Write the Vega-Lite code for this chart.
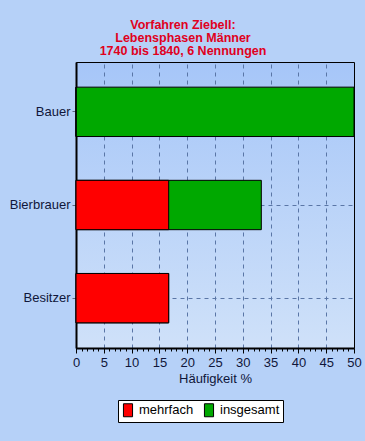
{
  "$schema": "https://vega.github.io/schema/vega-lite/v6.json",
  "autosize": "none",
  "width": 278,
  "height": 286,
  "padding": {"left": 76, "top": 62, "right": 11, "bottom": 93},
  "background": "#b6d1f8",
  "view": {
    "stroke": "#000000",
    "strokeWidth": 1,
    "fill": {"gradient": "linear", "x1": 0, "y1": 0, "x2": 0, "y2": 1, "stops": [{"offset": 0, "color": "#a6c6f8"}, {"offset": 1, "color": "#cfe1f9"}]}
  },
  "title": {
    "text": ["Vorfahren Ziebell:", "Lebensphasen Männer", "1740 bis 1840, 6 Nennungen"],
    "color": "#e00020",
    "font": "Liberation Sans",
    "fontSize": 12.5,
    "fontWeight": "bold",
    "lineHeight": 13,
    "anchor": "middle",
    "frame": "group",
    "dx": -32,
    "offset": 5
  },
  "data": {
    "values": [
      {"Beruf": "Bauer", "Art": "insgesamt", "Wert": 50},
      {"Beruf": "Bierbrauer", "Art": "insgesamt", "Wert": 33.33},
      {"Beruf": "Besitzer", "Art": "insgesamt", "Wert": 16.67},
      {"Beruf": "Bauer", "Art": "mehrfach", "Wert": 0},
      {"Beruf": "Bierbrauer", "Art": "mehrfach", "Wert": 16.67},
      {"Beruf": "Besitzer", "Art": "mehrfach", "Wert": 16.67}
    ]
  },
  "mark": {"type": "bar", "stroke": "#000000", "strokeWidth": 1},
  "encoding": {
    "y": {
      "field": "Beruf",
      "type": "nominal",
      "sort": ["Bauer", "Bierbrauer", "Besitzer"],
      "scale": {"paddingInner": 0.47, "paddingOuter": 0.27},
      "axis": {
        "title": null,
        "labelFont": "Liberation Sans",
        "labelFontSize": 13,
        "labelColor": "#10163a",
        "labelPadding": 2,
        "tickSize": 4,
        "tickColor": "#606880",
        "domainColor": "#000000",
        "domainWidth": 2,
        "grid": true,
        "gridColor": "#5a76a6",
        "gridDash": [4, 4],
        "gridWidth": 1
      }
    },
    "x": {
      "field": "Wert",
      "type": "quantitative",
      "stack": null,
      "scale": {"domain": [0, 50], "nice": false},
      "axis": {
        "title": "Häufigkeit %",
        "titleFont": "Liberation Sans",
        "titleFontSize": 13,
        "titleFontWeight": "normal",
        "titleColor": "#10163a",
        "titlePadding": 3,
        "values": [0,1,2,3,4,5,6,7,8,9,10,11,12,13,14,15,16,17,18,19,20,21,22,23,24,25,26,27,28,29,30,31,32,33,34,35,36,37,38,39,40,41,42,43,44,45,46,47,48,49,50],
        "labelExpr": "datum.value % 5 === 0 ? datum.label : ''",
        "labelFont": "Liberation Sans",
        "labelFontSize": 13,
        "labelColor": "#10163a",
        "labelPadding": 3,
        "labelOverlap": false,
        "labelFlush": false,
        "tickColor": "#000000",
        "tickSize": {"condition": {"test": "datum.value % 5 === 0", "value": 5}, "value": 3},
        "domainColor": "#000000",
        "domainWidth": 2,
        "grid": true,
        "gridColor": "#5a76a6",
        "gridDash": [4, 4],
        "gridWidth": 1,
        "gridOpacity": {"condition": {"test": "datum.value % 5 === 0 && datum.value > 0 && datum.value < 50", "value": 1}, "value": 0}
      }
    },
    "color": {
      "field": "Art",
      "type": "nominal",
      "scale": {"domain": ["mehrfach", "insgesamt"], "range": ["#ff0000", "#00a800"]},
      "legend": {
        "title": null,
        "orient": "none",
        "legendX": 42,
        "legendY": 338,
        "direction": "horizontal",
        "fillColor": "#ffffff",
        "strokeColor": "#000000",
        "padding": 3,
        "symbolType": "M-0.7,-1 h1.4 v2 h-1.4 z",
        "symbolSize": 169,
        "symbolStrokeColor": "#000000",
        "symbolStrokeWidth": 1,
        "symbolOpacity": 1,
        "labelFont": "Liberation Sans",
        "labelFontSize": 13,
        "labelColor": "#000000",
        "labelOffset": 4,
        "columnPadding": 8
      }
    }
  }
}
